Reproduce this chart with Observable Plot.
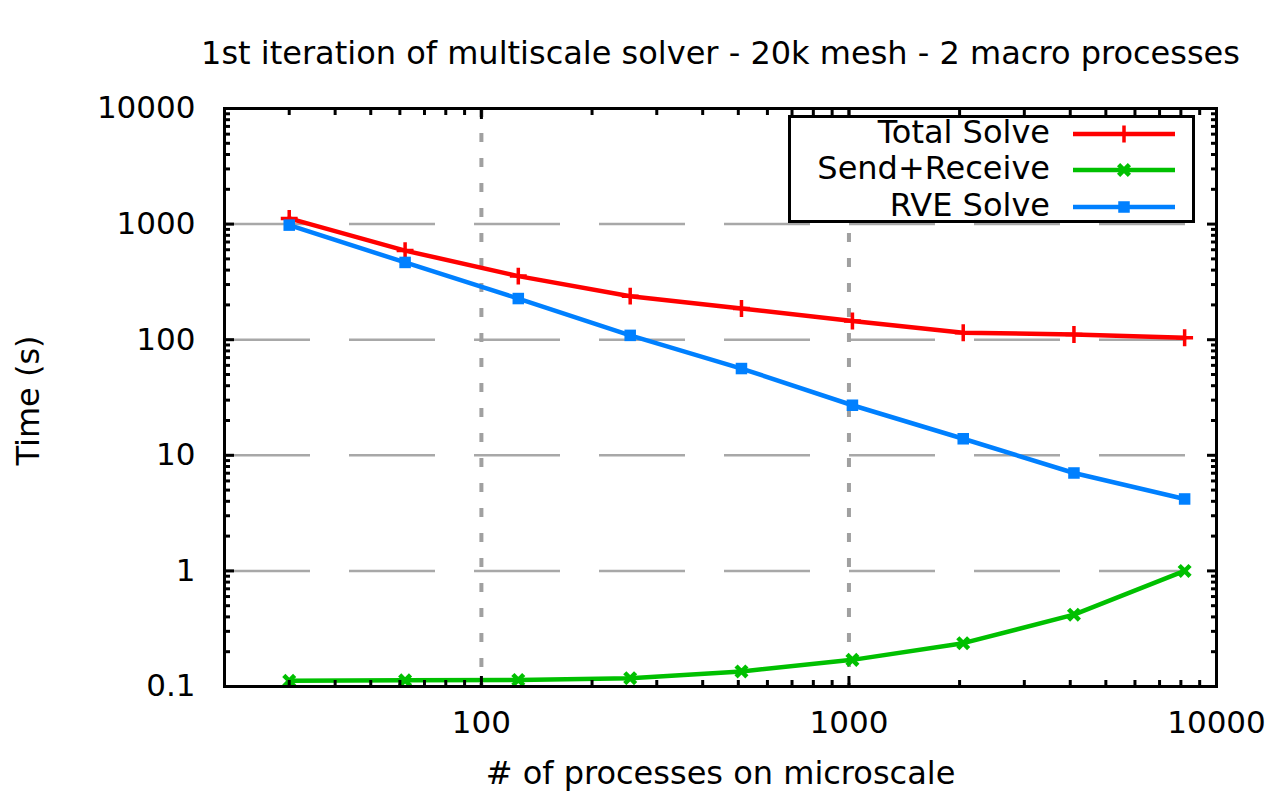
<!DOCTYPE html>
<html>
<head>
<meta charset="utf-8">
<script src="https://cdn.jsdelivr.net/npm/d3@7"></script>
<script src="https://cdn.jsdelivr.net/npm/@observablehq/plot@0.6"></script>
<style>
  body { margin: 0; background: #fff; font-family: "DejaVu Sans", sans-serif; }
  #wrap { position: relative; width: 1283px; height: 802px; }
  #legend { position: absolute; left: 788px; top: 115px; width: 401px; height: 102px;
            border: 3px solid #000; background: #fff; }
  .lab { position: absolute; right: 142px; font-size: 32px; line-height: 36px; white-space: nowrap; color: #000; }
  .sw { position: absolute; left: 282px; }
</style>
</head>
<body>
<div id="wrap"></div>
<script>
// ---- data ----
const procs = [30, 62, 126, 254, 510, 1022, 2046, 4094, 8190];
const totalSolve = [1120, 590, 355, 238, 186, 145, 115, 111, 104];
const sendReceive = [0.112, 0.113, 0.114, 0.118, 0.135, 0.170, 0.237, 0.418, 1.0];
const rveSolve = [980, 466, 227, 109, 56.3, 27.1, 13.9, 7.03, 4.19];

const seriesNames = ["Total Solve", "Send+Receive", "RVE Solve"];
const seriesColors = ["#ff0000", "#00c000", "#0080ff"];

const xTickLabels = [100, 1000, 10000];
const yTickLabels = [0.1, 1, 10, 100, 1000, 10000];
const xGrid = [100, 1000];
const yGrid = [1, 10, 100, 1000];

const titleText = "1st iteration of multiscale solver - 20k mesh - 2 macro processes";
const xLabel = "# of processes on microscale";
const yLabel = "Time (s)";

// minor ticks (2..9 per decade)
const xMinor = [], yMinor = [];
for (const dec of [10, 100, 1000]) for (let k = 2; k <= 9; k++) xMinor.push(k * dec);
for (const dec of [0.1, 1, 10, 100, 1000]) for (let k = 2; k <= 9; k++) yMinor.push(+(k * dec).toPrecision(3));

const table = [];
const seriesValues = [totalSolve, sendReceive, rveSolve];
seriesNames.forEach((name, i) => {
  procs.forEach((p, j) => table.push({ series: name, x: p, y: seriesValues[i][j] }));
});

const font = "DejaVu Sans";
const noText = () => "";

const chart = Plot.plot({
  width: 1283,
  height: 802,
  marginLeft: 224,
  marginRight: 67,
  marginTop: 108,
  marginBottom: 116,
  style: { fontFamily: font, background: "#fff", color: "#000", overflow: "visible" },
  x: { type: "log", domain: [20, 10000] },
  y: { type: "log", domain: [0.1, 10000] },
  marks: [
    // grid
    Plot.ruleY(yGrid, { y: d => d, stroke: "#a8a8a8", strokeWidth: 2.5, strokeDasharray: "86,39" }),
    Plot.ruleX(xGrid, { x: d => d, stroke: "#a0a0a0", strokeWidth: 4, strokeDasharray: "9,16" }),
    // series
    Plot.line(table.filter(d => d.series === seriesNames[0]), { x: "x", y: "y", stroke: seriesColors[0], strokeWidth: 4.5 }),
    Plot.line(table.filter(d => d.series === seriesNames[1]), { x: "x", y: "y", stroke: seriesColors[1], strokeWidth: 4.5 }),
    Plot.line(table.filter(d => d.series === seriesNames[2]), { x: "x", y: "y", stroke: seriesColors[2], strokeWidth: 4.5 }),
    Plot.dot(table.filter(d => d.series === seriesNames[0]), { x: "x", y: "y", symbol: "plus", r: 5.5, stroke: seriesColors[0], strokeWidth: 3.5 }),
    Plot.dot(table.filter(d => d.series === seriesNames[1]), { x: "x", y: "y", symbol: "times", r: 5, stroke: seriesColors[1], strokeWidth: 4.5 }),
    Plot.dot(table.filter(d => d.series === seriesNames[2]), { x: "x", y: "y", symbol: "square", r: 6.5, fill: seriesColors[2], stroke: "none" }),
    // frame
    Plot.frame({ stroke: "#000", strokeWidth: 3 }),
    // inward ticks on all four sides
    Plot.axisX({ anchor: "bottom", ticks: xTickLabels, tickSize: -10, strokeWidth: 3, tickFormat: noText, label: null }),
    Plot.axisX({ anchor: "bottom", ticks: xMinor, tickSize: -6, strokeWidth: 3, tickFormat: noText, label: null }),
    Plot.axisX({ anchor: "top", ticks: xTickLabels, tickSize: -10, strokeWidth: 3, tickFormat: noText, label: null }),
    Plot.axisX({ anchor: "top", ticks: xMinor, tickSize: -6, strokeWidth: 3, tickFormat: noText, label: null }),
    Plot.axisY({ anchor: "left", ticks: yTickLabels, tickSize: -10, strokeWidth: 3, tickFormat: noText, label: null }),
    Plot.axisY({ anchor: "left", ticks: yMinor, tickSize: -6, strokeWidth: 3, tickFormat: noText, label: null }),
    Plot.axisY({ anchor: "right", ticks: yTickLabels, tickSize: -10, strokeWidth: 3, tickFormat: noText, label: null }),
    Plot.axisY({ anchor: "right", ticks: yMinor, tickSize: -6, strokeWidth: 3, tickFormat: noText, label: null }),
    // tick labels
    Plot.axisX({ anchor: "bottom", ticks: xTickLabels, tickSize: 0, tickPadding: 24, fontSize: 31, tickFormat: d => String(d), label: null }),
    Plot.axisY({ anchor: "left", ticks: yTickLabels, tickSize: 0, tickPadding: 29, fontSize: 31, tickFormat: d => String(d), label: null }),
    // titles
    Plot.text([titleText], { text: d => d, frameAnchor: "top", lineAnchor: "bottom", dy: -45, fontSize: 32, fill: "#000" }),
    Plot.text([xLabel], { text: d => d, frameAnchor: "bottom", lineAnchor: "bottom", dy: 97, fontSize: 32, fill: "#000" }),
    Plot.text([yLabel], { text: d => d, frameAnchor: "left", textAnchor: "middle", lineAnchor: "middle", dx: -196, dy: 3, rotate: -90, fontSize: 32, fill: "#000" })
  ]
});

const wrap = document.getElementById("wrap");
wrap.appendChild(chart);

// legend (inside the plot area, top right)
const legend = document.createElement("div");
legend.id = "legend";
const rowCenters = [16, 52, 89];
const symbolDefs = [
  { type: d3.symbolPlus, size: Math.PI * 30, mode: "stroke", sw: 3.5 },
  { type: d3.symbolTimes, size: Math.PI * 25, mode: "stroke", sw: 4.5 },
  { type: d3.symbolSquare, size: Math.PI * 6.5 * 6.5, mode: "fill", sw: 0 }
];
seriesNames.forEach((name, i) => {
  const lab = document.createElement("div");
  lab.className = "lab";
  lab.textContent = name;
  lab.style.top = (rowCenters[i] - 20) + "px";
  legend.appendChild(lab);
  const svgNS = "http://www.w3.org/2000/svg";
  const svg = document.createElementNS(svgNS, "svg");
  svg.setAttribute("class", "sw");
  svg.setAttribute("width", 104);
  svg.setAttribute("height", 20);
  svg.style.top = (rowCenters[i] - 10) + "px";
  const line = document.createElementNS(svgNS, "line");
  line.setAttribute("x1", 0); line.setAttribute("x2", 102);
  line.setAttribute("y1", 10); line.setAttribute("y2", 10);
  line.setAttribute("stroke", seriesColors[i]);
  line.setAttribute("stroke-width", 4.5);
  svg.appendChild(line);
  const p = document.createElementNS(svgNS, "path");
  const sd = symbolDefs[i];
  p.setAttribute("d", d3.symbol(sd.type, sd.size)());
  p.setAttribute("transform", "translate(51,10)");
  if (sd.mode === "fill") { p.setAttribute("fill", seriesColors[i]); }
  else { p.setAttribute("fill", "none"); p.setAttribute("stroke", seriesColors[i]); p.setAttribute("stroke-width", sd.sw); }
  svg.appendChild(p);
  legend.appendChild(svg);
});
wrap.appendChild(legend);
</script>
</body>
</html>
